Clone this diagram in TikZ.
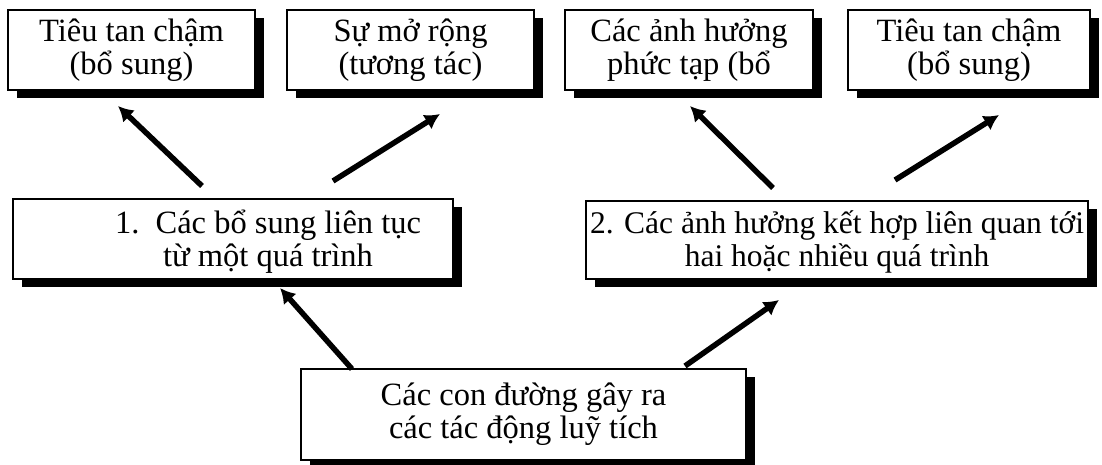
\documentclass[tikz,border=0pt]{standalone}
\usepackage{fontspec}
\setmainfont{Liberation Serif}
\usetikzlibrary{shadows,arrows.meta}
\tikzset{
  box/.style={draw=black, line width=1.5pt, fill=white, inner sep=0pt,
    drop shadow={shadow xshift=9pt, shadow yshift=-8pt, opacity=1, fill=black}},
  txt/.style={inner sep=0pt, align=center, font=\fontsize{32.5}{33}\selectfont},
  txtsmall/.style={txt, font=\fontsize{31.5}{33}\selectfont},
  arr/.style={line width=5.5pt, -{Latex[length=15pt,width=17pt]}}
}
\begin{document}
\begin{tikzpicture}[x=1pt,y=1pt]
\useasboundingbox (0,0) rectangle (1102,464);
% top row
\node[box, minimum width=247, minimum height=80] (t1) at (131.5,414) {};
\node[txt] at (t1.center) {Tiêu tan chậm\\(bổ sung)};
\node[box, minimum width=247, minimum height=80] (t2) at (410.5,414) {};
\node[txt] at (t2.center) {Sự mở rộng\\(tương tác)};
\node[box, minimum width=248, minimum height=80] (t3) at (689,414) {};
\node[txt] at (t3.center) {Các ảnh hưởng\\phức tạp (bổ};
\node[box, minimum width=242, minimum height=80] (t4) at (969,414) {};
\node[txt] at (t4.center) {Tiêu tan chậm\\(bổ sung)};
% middle row
\node[box, minimum width=440, minimum height=80] (m1) at (233,225) {};
\node[txt] (m1t) at ([xshift=35pt,yshift=-3pt]m1.center) {1.\ \ Các bổ sung liên tục\\từ một quá trình};
\node[box, minimum width=502, minimum height=78] (m2) at (837,224) {};
\node[txtsmall] (m2t) at ([yshift=-2pt]m2.center) {2. Các ảnh hưởng kết hợp liên quan tới\\hai hoặc nhiều quá trình};
% bottom
\node[box, minimum width=445, minimum height=91] (b) at (523.5,49.5) {};
\node[txt] (bt) at (b.center) {Các con đường gây ra\\các tác động luỹ tích};
% arrow end points
\coordinate (a1s) at (202,278); \coordinate (a1e) at (118,358);
\coordinate (a2s) at (333,283); \coordinate (a2e) at (440,350);
\coordinate (a3s) at (773,276); \coordinate (a3e) at (690,358);
\coordinate (a4s) at (895,284); \coordinate (a4e) at (999,349);
\coordinate (a5s) at (352,95);  \coordinate (a5e) at (280,176);
\coordinate (a6s) at (685,98);  \coordinate (a6e) at (779,164);
\draw[arr] (a1s) -- (a1e);
\draw[arr] (a2s) -- (a2e);
\draw[arr] (a3s) -- (a3e);
\draw[arr] (a4s) -- (a4e);
\draw[arr] (a5s) -- (a5e);
\draw[arr] (a6s) -- (a6e);
\end{tikzpicture}
\end{document}
